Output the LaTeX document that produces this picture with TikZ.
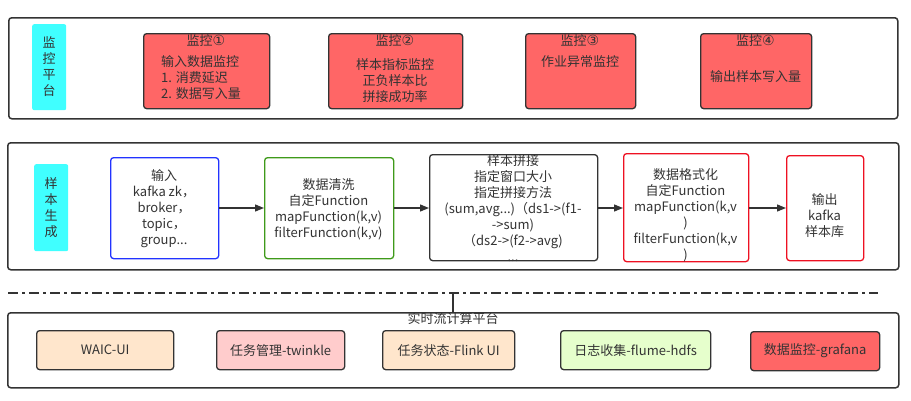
\documentclass[tikz,border=0pt]{standalone}
\usepackage{fontspec}
\setmainfont{Noto Sans CJK SC}
\newfontfamily\symfont{DejaVu Sans}
\usetikzlibrary{arrows.meta}
\definecolor{txt}{HTML}{333333}
\definecolor{cyanl}{HTML}{40FFFF}
\definecolor{redf}{HTML}{FF6666}
\definecolor{orangef}{HTML}{FFE6CC}
\definecolor{pinkf}{HTML}{FFCCCC}
\definecolor{greenf}{HTML}{E6FFCC}
\definecolor{blueb}{HTML}{2233FF}
\definecolor{greenb}{HTML}{3F9A1A}
\definecolor{redb}{HTML}{EE1122}
\newcommand{\cnum}[1]{{\symfont\fontsize{14}{16}\selectfont #1}}
\tikzset{
  panel/.style={draw=txt, line width=1.5pt, rounded corners=3pt, inner sep=0pt, anchor=north west},
  tag/.style={fill=cyanl, rounded corners=2pt, inner sep=0pt, anchor=north west},
  mon/.style={draw=txt, fill=redf, line width=1.3pt, rounded corners=3pt, inner sep=0pt, anchor=north west},
  stage/.style={line width=1.3pt, rounded corners=3pt, inner sep=0pt, anchor=north west},
  plat/.style={draw=txt, line width=1.3pt, rounded corners=3pt, inner sep=0pt, anchor=north west},
  lbl/.style={text=txt, align=center, inner sep=0pt, font=\fontsize{13}{16}\selectfont},
  flow/.style={draw=txt, line width=1.3pt, -{Triangle[length=9pt,width=7pt]}},
}
\begin{document}
\begin{tikzpicture}[x=1pt,y=-1pt]
\useasboundingbox (0,0) rectangle (911,400);
% panels
\node[panel, minimum width=889pt, minimum height=101pt] (p1) at (8,17) {};
\node[panel, minimum width=891pt, minimum height=127pt] (p2) at (7,142) {};
\node[panel, minimum width=891pt, minimum height=75pt] (p3) at (7,312) {};
% tags
\node[tag, minimum width=34pt, minimum height=86pt] (t1) at (32,24) {};
\node[lbl] (t1l) at (49,67) {监\\控\\平\\台};
\node[tag, minimum width=34pt, minimum height=87pt] (t2) at (34,164) {};
\node[lbl] (t2l) at (51,207.5) {样\\本\\生\\成};
% monitors
\node[mon, minimum width=126pt, minimum height=75pt] (m1) at (143,33) {};
\node[mon, minimum width=134pt, minimum height=75pt] (m2) at (328,33) {};
\node[mon, minimum width=110pt, minimum height=75pt] (m3) at (525,33) {};
\node[mon, minimum width=111pt, minimum height=75pt] (m4) at (700,33) {};
\node[lbl] (m1t) at (206,40) {监控\cnum{①}};
\node[lbl, align=left] (m1b) at (201,78) {输入数据监控\\1. 消费延迟\\2. 数据写入量};
\node[lbl] (m2t) at (395,40) {监控\cnum{②}};
\node[lbl] (m2b) at (395,80.5) {样本指标监控\\正负样本比\\拼接成功率};
\node[lbl] (m3t) at (580,40) {监控\cnum{③}};
\node[lbl] (m3b) at (580,62) {作业异常监控};
\node[lbl] (m4t) at (755.5,40) {监控\cnum{④}};
\node[lbl] (m4b) at (755.5,77) {输出样本写入量};
% stages
\node[stage, draw=blueb, minimum width=108pt, minimum height=101pt] (s1) at (110,157) {};
\node[stage, draw=greenb, minimum width=129pt, minimum height=101pt] (s2) at (264,157) {};
\node[stage, draw=txt, minimum width=168pt, minimum height=106pt] (s3) at (429,154) {};
\node[stage, draw=redb, minimum width=125pt, minimum height=108pt] (s4) at (623,153) {};
\node[stage, draw=redb, minimum width=77pt, minimum height=105pt] (s5) at (786,155) {};
\node[lbl] (s1l) at (164,209) {输入\\kafka zk，\\broker，\\topic，\\group...};
\node[lbl] (s2l) at (328.5,209) {数据清洗\\自定Function\\mapFunction(k,v)\\filterFunction(k,v)};
\node[lbl] (s3l) at (513,208.5) {样本拼接\\指定窗口大小\\指定拼接方法\\(sum,avg...)（ds1->(f1-\\->sum)\\（ds2->(f2->avg)\\...};
\node[lbl] (s4l) at (685.5,215.5) {数据格式化\\自定Function\\mapFunction(k,v\\)\\filterFunction(k,v\\)};
\node[lbl] (s5l) at (824.5,216) {输出\\kafka\\样本库};
\draw[flow] (s1.east |- 0,208) -- (s2.west |- 0,208);
\draw[flow] (s2.east |- 0,208) -- (s3.west |- 0,208);
\draw[flow] (s3.east |- 0,208) -- (s4.west |- 0,208);
\draw[flow] (s4.east |- 0,208) -- (s5.west |- 0,208);
% separator
\coordinate (d1) at (8,293);
\coordinate (d2) at (878,293);
\coordinate (dm) at (453,293);
\draw[txt, line width=1.5pt, dash pattern=on 10pt off 4pt on 3pt off 4pt] (d1) -- (d2);
\draw[txt, line width=1.3pt] (dm) -- (dm |- p3.north);
\node[lbl] (p3l) at (453,319) {实时流计算平台};
% platform boxes
\node[plat, fill=orangef, minimum width=137pt, minimum height=39pt] (b1) at (36,330) {};
\node[plat, fill=pinkf, minimum width=128pt, minimum height=39pt] (b2) at (216,330) {};
\node[plat, fill=orangef, minimum width=132pt, minimum height=39pt] (b3) at (382,330) {};
\node[plat, fill=greenf, minimum width=150pt, minimum height=39pt] (b4) at (560,330) {};
\node[plat, fill=redf, minimum width=129pt, minimum height=39pt] (b5) at (750,331) {};
\node[lbl] at (b1.center) {WAIC-UI};
\node[lbl] at (b2.center) {任务管理-twinkle};
\node[lbl] at (b3.center) {任务状态-Flink UI};
\node[lbl] at (b4.center) {日志收集-flume-hdfs};
\node[lbl] at (b5.center) {数据监控-grafana};
\end{tikzpicture}
\end{document}
